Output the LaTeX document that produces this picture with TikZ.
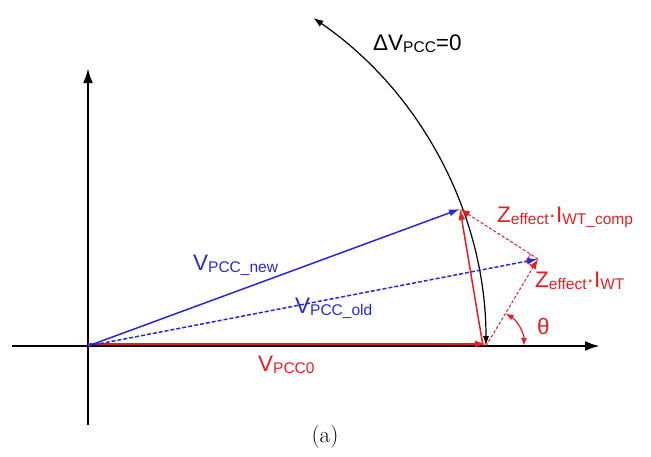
\documentclass[tikz,border=0pt]{standalone}
\usepackage{fontspec}
\newfontfamily\arialfont{Liberation Sans}
\usetikzlibrary{calc,arrows.meta}
\definecolor{vred}{RGB}{228,30,36}
\definecolor{vblue}{RGB}{40,40,210}
\newcommand\lo[1]{\raisebox{-2pt}{\fontsize{15.5}{18}\selectfont #1}}
\tikzset{
  axis/.style={line width=2.6pt,-{Latex[length=15pt,width=10pt]}},
  vec/.style={line width=1.5pt,-{Latex[length=11pt,width=7pt]}},
  comp/.style={line width=1pt,vred,dash pattern=on 3pt off 2pt,-{Latex[length=10pt,width=7pt]}},
  lbl/.style={font=\arialfont\fontsize{22.5}{26}\selectfont,inner sep=0pt,anchor=base west},
}
\begin{document}
\begin{tikzpicture}[x=1pt,y=1pt]
        \useasboundingbox (0,0) rectangle (651,-456);
        \coordinate (O) at (88,-346);
        \coordinate (P0) at (486,-346);
        \coordinate (Pold) at (538,-259);
        \coordinate (Pnew) at (460,-209);
        \coordinate (xl) at (12,-346);
        \coordinate (xr) at (600,-346);
        \coordinate (yb) at (88,-425);
        \coordinate (yt) at (88,-68);
        \draw[axis] (xl) -- (xr);
        \draw[axis] (yb) -- (yt);
        % circle of constant voltage
        \draw[line width=1.2pt,{Latex[length=10pt,width=6pt]}-{Latex[length=10pt,width=7pt]}] (P0) arc[start angle=0,end angle=55.5,radius=398];
        \draw[vec,vred] ([yshift=2pt]O) -- ([yshift=2pt]P0);
        \draw[vec,vred] ([xshift=-3pt]P0) -- (Pnew);
        \draw[vec,vblue] (O) -- (Pnew);
        \draw[vec,vblue,dash pattern=on 4pt off 2pt] (O) -- (Pold);
        \draw[comp] (P0) -- (Pold);
        \draw[comp] (Pold) -- (Pnew);
        % right angle
        \coordinate (ra) at ($(Pold)!9pt!(P0)$);
        \coordinate (rb) at ($(Pold)!9pt!(Pnew)$);
        \coordinate (rc) at ($(ra)+(rb)-(Pold)$);
        \draw[vred,line width=0.8pt] (ra) -- (rc) -- (rb);
        \draw[vred,line width=1.2pt,{Latex[length=8pt,width=6pt]}-{Latex[length=8pt,width=6pt]}] ([xshift=38pt]P0) arc[start angle=0,end angle=59,radius=38];
        \node[lbl] (dv) at (373,-50) {ΔV\lo{PCC}=0};
        \node[lbl,vblue] (vnew) at (193,-270) {V\lo{PCC\_new}};
        \node[lbl,vblue] (vold) at (295,-313) {V\lo{PCC\_old}};
        \node[lbl,vred] (v0) at (258,-371) {V\lo{PCC0}};
        \node[lbl,vred] (zc) at (497,-222) {Z\lo{effect}·I\lo{WT\_comp}};
        \node[lbl,vred] (zw) at (535,-287) {Z\lo{effect}·I\lo{WT}};
        \node[lbl,vred] (th) at (537,-334) {θ};
        \node[font=\fontsize{23}{27}\selectfont] (cap) at (325,-437) {(a)};
\end{tikzpicture}
\end{document}
